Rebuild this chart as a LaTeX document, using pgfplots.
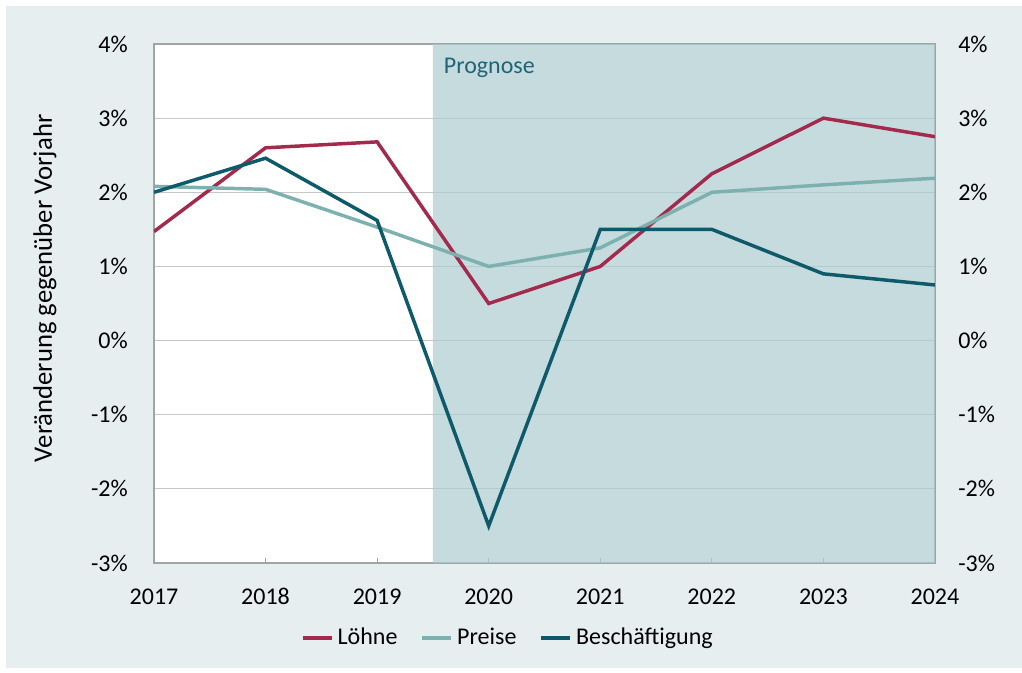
\documentclass[border=0pt]{standalone}
\usepackage{fontspec}
\setmainfont{Carlito}
\usepackage{pgfplots}
\pgfplotsset{compat=1.18}
\definecolor{bg}{HTML}{E6EEF0}
\definecolor{shade}{HTML}{AECDD0}
\definecolor{loehne}{HTML}{A3294D}
\definecolor{preise}{HTML}{7DB1AF}
\definecolor{besch}{HTML}{0E5A6A}
\definecolor{prog}{HTML}{1F6577}
\definecolor{gridc}{HTML}{C4C8C8}
\definecolor{axc}{HTML}{A0A4A4}
\begin{document}
\fontsize{18}{21}\selectfont
\begin{tikzpicture}
\fill[white] (-115.5pt,-81.75pt) rectangle (651pt,422.25pt);
\fill[bg] (-111pt,-78.75pt) rectangle (651pt,417.75pt);
\begin{axis}[at={(0,0)}, anchor=south west,
  scale only axis, width=585.75pt, height=389.25pt,
  xmin=2017, xmax=2024, ymin=-3, ymax=4,
  axis background/.style={fill=white},
  axis line style={draw=axc, line width=0.8pt},
  xtick={2017,...,2024},
  xticklabels={2017,2018,2019,2020,2021,2022,2023,2024},
  ytick={-3,...,4},
  yticklabels={-3\%,-2\%,-1\%,0\%,1\%,2\%,3\%,4\%},
  ymajorgrids, grid style={draw=gridc, line width=0.6pt},
  major tick length=4pt,
  xtick style={draw=axc, line width=0.8pt},
  xtick pos=bottom, xtick align=inside,
  ytick style={draw=none},
  ytick pos=left,
  yticklabel style={anchor=east, inner sep=0pt, xshift=-19.5pt},
  xticklabel style={anchor=base, inner sep=0pt, yshift=-31pt},
  legend columns=3,
  legend style={at={(0.4533,-0.1445)}, anchor=center, draw=none, fill=none,
    inner sep=0pt, font=\fontsize{18}{21}\selectfont,
    /tikz/every odd column/.append style={column sep=1pt},
    /tikz/every even column/.append style={column sep=15pt}},
  legend image code/.code={\draw[#1, line width=3pt] (0pt,0pt) -- (21.75pt,0pt);},
]
\addplot[fill=shade, fill opacity=0.7, draw=none, forget plot] coordinates {(2019.5,-3) (2024,-3) (2024,4) (2019.5,4)} \closedcycle;
\addplot[loehne, line width=2.6pt] coordinates {(2017,1.47) (2018,2.60) (2019,2.68) (2020,0.50) (2021,1.00) (2022,2.25) (2023,3.00) (2024,2.75)};
\addlegendentry{Löhne}
\addplot[preise, line width=2.6pt] coordinates {(2017,2.08) (2018,2.04) (2019,1.53) (2020,1.00) (2021,1.25) (2022,2.00) (2023,2.10) (2024,2.19)};
\addlegendentry{Preise}
\addplot[besch, line width=2.6pt] coordinates {(2017,2.00) (2018,2.46) (2019,1.62) (2020,-2.50) (2021,1.50) (2022,1.50) (2023,0.90) (2024,0.75)};
\addlegendentry{Beschäftigung}
\node[anchor=west, text=prog, inner sep=0pt] at (axis cs:2019.5,3.676) {\hspace{8pt}Prognose};
\end{axis}
\begin{axis}[at={(0,0)}, anchor=south west,
  scale only axis, width=585.75pt, height=389.25pt,
  xmin=2017, xmax=2024, ymin=-3, ymax=4,
  axis x line=none, axis y line*=right,
  y axis line style={draw=none},
  ytick={-3,...,4},
  yticklabels={-3\%,-2\%,-1\%,0\%,1\%,2\%,3\%,4\%},
  ytick style={draw=none},
  yticklabel style={anchor=west, inner sep=0pt, xshift=17.25pt},
]
\addplot[draw=none] coordinates {(2017,0)};
\end{axis}
\node[rotate=90] at (-81.75pt,206pt) {\fontsize{20}{23}\selectfont Veränderung gegenüber Vorjahr};
\pgfresetboundingbox
\useasboundingbox (-115.5pt,-81.75pt) rectangle (651pt,422.25pt);
\end{tikzpicture}
\end{document}
